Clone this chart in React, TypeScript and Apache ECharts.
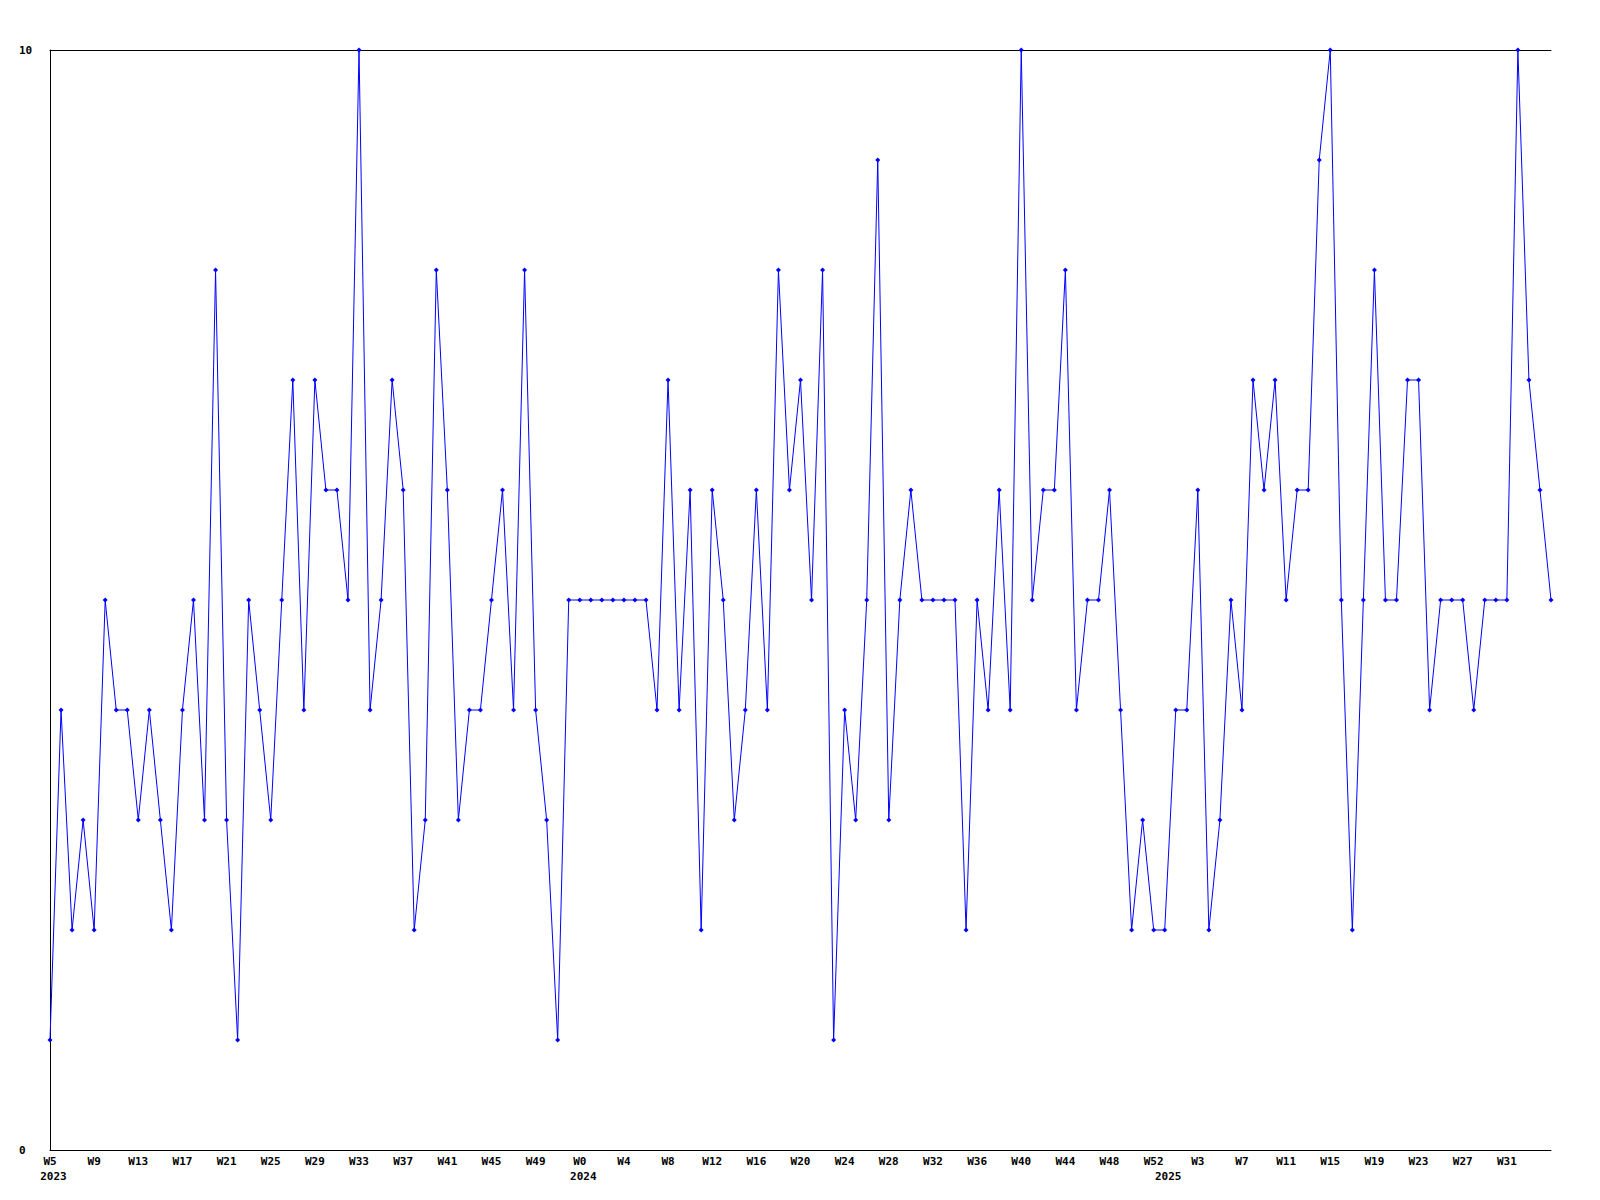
import React, { useEffect, useRef } from "react";
import * as echarts from "echarts";

// Week numbers per year (2023 W5..W52, 2024 W0..W52, 2025 W0..W35)
const weeks2023: number[] = Array.from({ length: 48 }, (_, i) => i + 5);
const weeks2024: number[] = Array.from({ length: 53 }, (_, i) => i);
const weeks2025: number[] = Array.from({ length: 36 }, (_, i) => i);

const values: number[] = [
  // 2023 W5..W52
  1, 4, 2, 3, 2, 5, 4, 4, 3, 4, 3, 2, 4, 5, 3, 8, 3, 1, 5, 4, 3, 5, 7, 4,
  7, 6, 6, 5, 10, 4, 5, 7, 6, 2, 3, 8, 6, 3, 4, 4, 5, 6, 4, 8, 4, 3, 1, 5,
  // 2024 W0..W52
  5, 5, 5, 5, 5, 5, 5, 4, 7, 4, 6, 2, 6, 5, 3, 4, 6, 4, 8, 6, 7, 5, 8, 1,
  4, 3, 5, 9, 3, 5, 6, 5, 5, 5, 5, 2, 5, 4, 6, 4, 10, 5, 6, 6, 8, 4, 5, 5,
  6, 4, 2, 3, 2,
  // 2025 W0..W35
  2, 4, 4, 6, 2, 3, 5, 4, 7, 6, 7, 5, 6, 6, 9, 10, 5, 2, 5, 8, 5, 5, 7, 7,
  4, 5, 5, 5, 4, 5, 5, 5, 10, 7, 6, 5,
];

const yearStarts: { year: string; weeks: number[] }[] = [
  { year: "2023", weeks: weeks2023 },
  { year: "2024", weeks: weeks2024 },
  { year: "2025", weeks: weeks2025 },
];

const categories: string[] = [];
const yearAt: string[] = [];
yearStarts.forEach((y) => {
  y.weeks.forEach((w, i) => {
    categories.push("W" + w);
    yearAt.push(i === 0 ? y.year : "");
  });
});

const FONT = "DejaVu Sans Mono";

export default function App() {
  const ref = useRef<HTMLDivElement>(null);
  useEffect(() => {
    document.body.style.margin = "0";
    const chart = echarts.init(ref.current!, null, { renderer: "svg" });
    chart.setOption({
      animation: false,
      backgroundColor: "#ffffff",
      grid: { left: 50, right: 49, top: 50, bottom: 50, containLabel: false },
      xAxis: [
        {
          type: "category",
          data: categories,
          boundaryGap: false,
          position: "bottom",
          axisLine: { show: true, lineStyle: { color: "#000", width: 1 } },
          axisTick: { show: false },
          splitLine: { show: false },
          axisLabel: {
            interval: (index: number) => index % 4 === 0,
            showMaxLabel: false,
            margin: 6,
            color: "#000",
            fontFamily: FONT,
            fontWeight: "bold",
            fontSize: 11,
          },
        },
        {
          type: "category",
          data: categories,
          boundaryGap: false,
          position: "bottom",
          axisLine: { show: false },
          axisTick: { show: false },
          splitLine: { show: false },
          axisLabel: {
            interval: (index: number) => yearAt[index] !== "",
            margin: 21,
            formatter: (_v: string, index: number) =>
              yearAt[index] ? "{y|" + yearAt[index] + "}" : "",
            rich: {
              y: {
                padding: [0, 0, 0, 7],
                color: "#000",
                fontFamily: FONT,
                fontWeight: "bold",
                fontSize: 11,
              },
            },
          },
        },
        {
          type: "category",
          data: categories,
          boundaryGap: false,
          position: "top",
          axisLine: { show: true, lineStyle: { color: "#000", width: 1 } },
          axisTick: { show: false },
          axisLabel: { show: false },
          splitLine: { show: false },
        },
      ],
      yAxis: {
        type: "value",
        min: 0,
        max: 10,
        interval: 10,
        axisLine: { show: true, lineStyle: { color: "#000", width: 1 } },
        axisTick: { show: false },
        splitLine: { show: false },
        axisLabel: {
          align: "left",
          margin: 31,
          color: "#000",
          fontFamily: FONT,
          fontWeight: "bold",
          fontSize: 11,
        },
      },
      series: [
        {
          type: "line",
          xAxisIndex: 0,
          data: values,
          symbol: "diamond",
          symbolSize: 5,
          showAllSymbol: true,
          lineStyle: { color: "#0000ff", width: 1 },
          itemStyle: { color: "#0000ff" },
        },
      ],
    });
    return () => chart.dispose();
  }, []);
  return <div ref={ref} style={{ width: 1600, height: 1200 }} />;
}
